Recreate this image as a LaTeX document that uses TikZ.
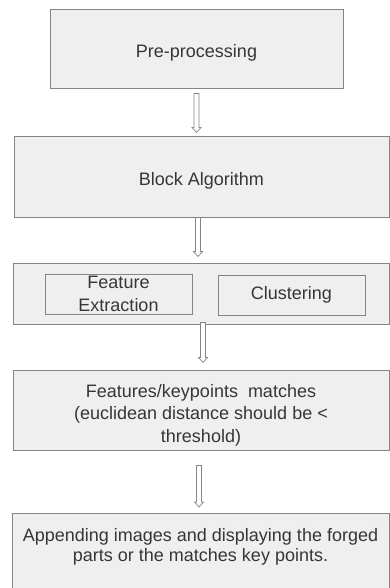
\documentclass[tikz,border=0pt]{standalone}
\usepackage{fontspec}
\setmainfont{Liberation Sans}
\usetikzlibrary{calc}
\definecolor{boxfill}{HTML}{EFEFEF}
\definecolor{boxline}{HTML}{858585}
\definecolor{txtcol}{HTML}{363636}
\begin{document}
\begin{tikzpicture}[x=1pt,y=-1pt,
  box/.style={draw=boxline, fill=boxfill, line width=1pt, inner sep=0pt,
    text=txtcol, font=\fontsize{18}{22.5}\selectfont, align=center},
  lowtext/.style={text height=21pt, text depth=4pt},
  txt/.style={text=txtcol, inner sep=0pt, align=center},
  hollow/.style={draw=boxline, fill=white, line width=0.7pt,
    to path={let \p1=(\tikztostart), \p2=(\tikztotarget) in
      (\x1-2.5pt,\y1) -- (\x1+2.5pt,\y1) -- (\x1+2.5pt,\y2+5pt) -- (\x1+4.5pt,\y2+5pt)
      -- (\x1,\y2) -- (\x1-4.5pt,\y2+5pt) -- (\x1-2.5pt,\y2+5pt) -- cycle}}]
\useasboundingbox (0,0) rectangle (390,588);
\fill[white] (0,0) rectangle (390,588);
\node[box, lowtext, minimum width=293, minimum height=79] (b1) at (196.5,49.5) {Pre-processing};
\node[box, lowtext, minimum width=375, minimum height=80] (b2) at (201.5,177) {Block Algorithm};
\node[box, minimum width=376, minimum height=61] (b3) at (201,293.5) {};
\node[box, minimum width=147, minimum height=40] (fe) at (118.5,294) {Feature\\Extraction};
\node[box, minimum width=147, minimum height=40] (cl) at (291.5,295) {Clustering};
\node[box, minimum width=376, minimum height=80] (b4) at (201,410) {};
\node[txt, font=\fontsize{18}{22.5}\selectfont] (t4) at (201,415) {Features/keypoints\ \ matches\\(euclidean distance should be <\\threshold)};
\node[box, minimum width=377, minimum height=90, anchor=north] (b5) at (200.5,513) {};
\node[txt, font=\fontsize{18}{20}\selectfont] (t5) at (200.5,547) {Appending images and displaying the forged\\parts or the matches key points.};
\draw[hollow] ($(b1.south)+(0,4)$) to ($(b2.north)+(0,-4)$);
\draw[hollow] ($(b2.south)+(-3.5,0)$) to ($(b3.north)+(0,-6)$);
\draw[hollow] ($(b3.south)+(2,-2)$) to ($(b4.north)+(0,-7)$);
\draw[hollow] ($(b4.south)+(-2,15)$) to ($(b5.north)+(0,-6)$);
\end{tikzpicture}
\end{document}
